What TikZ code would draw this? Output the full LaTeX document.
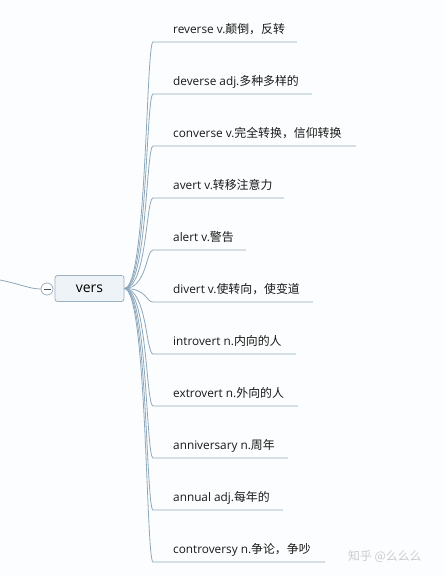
\documentclass[tikz,border=0pt]{standalone}
\usepackage{fontspec}
\setmainfont{Open Sans}
\newfontfamily\cjk{Noto Sans CJK SC}
\definecolor{bg}{HTML}{FCFDFE}
\definecolor{ln}{HTML}{8EA8BB}
\definecolor{boxfill}{HTML}{EEF3F7}
\definecolor{boxdraw}{HTML}{9DB0C0}
\definecolor{wm}{HTML}{C9CCCF}
\tikzset{
  leaf/.style={anchor=base west, inner sep=0pt, font=\fontsize{11.8}{14}\selectfont, text=black!90},
  conn/.style={draw=ln, line width=0.8pt},
  rootbox/.style={draw=boxdraw, fill=boxfill, rounded corners=2.5pt, line width=0.8pt, minimum width=69pt, minimum height=26pt, font=\fontsize{14}{16}\selectfont, inner sep=0pt}
}
\newcommand{\zh}[1]{{\cjk\fontsize{11.9}{14}\selectfont #1}}
\begin{document}
\begin{tikzpicture}[x=1pt,y=-1pt]
\fill[bg] (0,0) rectangle (444,576);
\useasboundingbox (0,0) rectangle (444,576);
\node[rootbox] (root) at (89.5,288.5) {vers};
\node[circle, draw=boxdraw, fill=white, line width=0.8pt, minimum size=12pt, inner sep=0pt] (col) at (47,289) {};
\draw[black!70, line width=0.8pt] (col.center) ++(-3.5,0) -- ++(7,0);
\coordinate (lstart) at (0,280);
\draw[conn] (lstart) .. controls (20,284) and (30,289) .. (col.west);
\foreach \i/\txt/\zhtxt/\xe in {
  0/reverse v./颠倒，反转/297,
  1/deverse adj./多种多样的/312,
  2/converse v./完全转换，信仰转换/356,
  3/avert v./转移注意力/284,
  4/alert v./警告/246,
  5/divert v./使转向，使变道/313,
  6/introvert n./内向的人/296,
  7/extrovert n./外向的人/298,
  8/anniversary n./周年/288,
  9/annual adj./每年的/283,
  10/controversy n./争论，争吵/325}{
  \pgfmathsetmacro{\yy}{42+52*\i}
  \node[leaf] (t\i) at (173,\yy-9) {\txt\zh{\zhtxt}};
  \coordinate (s\i) at (153,\yy);
  \coordinate (e\i) at (\xe,\yy);
  \draw[conn] (root.east) .. controls (147,288.5) and (146,\yy) .. (s\i) -- (e\i);
}
\node[anchor=base west, inner sep=0pt, text=wm] (wmk) at (348,560) {\zh{知乎 @么么么}};
\end{tikzpicture}
\end{document}
